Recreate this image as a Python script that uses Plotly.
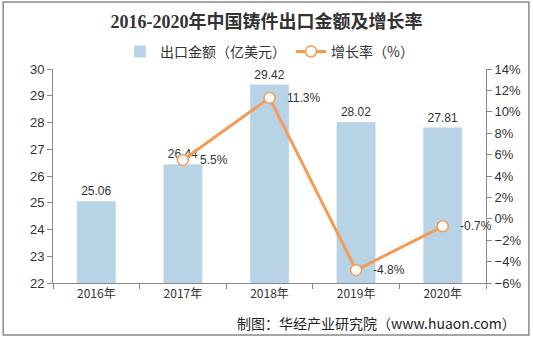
import plotly.graph_objects as go

years = ["2016年", "2017年", "2018年", "2019年", "2020年"]
export_value = [25.06, 26.44, 29.42, 28.02, 27.81]
growth_years = ["2017年", "2018年", "2019年", "2020年"]
growth_rate = [5.5, 11.3, -4.8, -0.7]

FONT = "Arial, Liberation Sans, Noto Sans CJK SC"
fig = go.Figure()
fig.add_trace(go.Bar(
    x=years, y=export_value, name="出口金额（亿美元）",
    marker_color="#B8D3E5", width=0.45,
    text=[f"{v:.2f}" for v in export_value], textposition="outside",
    textfont=dict(size=12, color="#333333", family=FONT), cliponaxis=False,
))
fig.add_trace(go.Scatter(
    x=growth_years, y=growth_rate, name="增长率（%）", yaxis="y2",
    mode="lines+markers",
    line=dict(color="#F39C55", width=3),
    marker=dict(symbol="circle", size=11, color="white", line=dict(color="#F39C55", width=1.5)),
    cliponaxis=False,
))

rate_labels = [dict(text=f"{v}%", xref="x", yref="y2", x=yr, y=v, xanchor="left", yanchor="middle",
                    xshift=15, showarrow=False, font=dict(size=12, color="#333333", family=FONT))
               for yr, v in zip(growth_years, growth_rate)]

fig.update_layout(
    width=533, height=337,
    margin=dict(l=53, r=45, t=69, b=54),
    paper_bgcolor="white", plot_bgcolor="white",
    font=dict(family=FONT, size=12, color="#333333"),
    title=dict(text="<b>2016-2020年中国铸件出口金额及增长率</b>",
               x=0.5, xanchor="center", y=0.935, yanchor="middle",
               font=dict(family="Liberation Serif, Noto Sans CJK SC", size=18, color="#333333")),
    legend=dict(orientation="h", x=0.5, xanchor="center", y=1.08, yanchor="middle",
                font=dict(size=14, color="#333333", family="Noto Sans CJK SC"),
                bgcolor="rgba(0,0,0,0)"),
    showlegend=True,
    bargap=0.55,
    xaxis=dict(range=[-0.5, 4.5], autorange=False, showline=True, linecolor="#888888",
               ticks="outside", tickson="boundaries",
               ticklen=5, tickcolor="#888888", tickfont=dict(size=12, family="Noto Sans CJK SC")),
    yaxis=dict(range=[22, 30], dtick=1, showline=True, linecolor="#888888", ticks="outside",
               ticklen=5, tickcolor="#888888", showgrid=False, zeroline=False,
               tickfont=dict(size=13)),
    yaxis2=dict(range=[-6, 14], dtick=2, overlaying="y", side="right", showline=True,
                linecolor="#888888", ticks="outside", ticklen=5, tickcolor="#888888",
                showgrid=False, zeroline=False, ticksuffix="%", tickfont=dict(size=13)),
    shapes=[dict(type="rect", xref="paper", yref="paper", x0=-0.115, x1=1.099, y0=-0.243, y1=1.313,
                 line=dict(color="#888888", width=1.5), fillcolor="rgba(0,0,0,0)", layer="below")],
    annotations=rate_labels + [dict(text="制图：华经产业研究院（www.huaon.com）", xref="paper", yref="paper",
                      x=1.075, y=-0.185, xanchor="right", yanchor="middle", showarrow=False,
                      font=dict(size=14, color="#222222", family="Noto Sans CJK SC"))],
)
fig.write_html("out.html")
